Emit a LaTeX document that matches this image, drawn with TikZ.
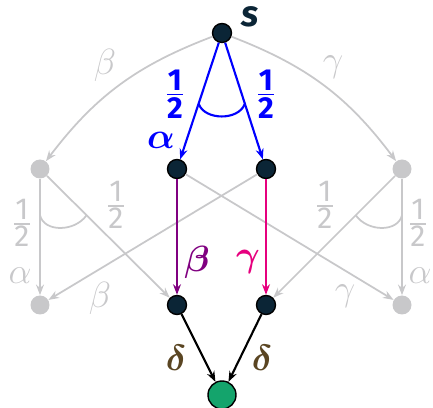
\documentclass[tikz,border=0pt]{standalone}
\usepackage{amsmath}
\usepackage{fontspec}
\setmainfont{Fira Sans}
\usepackage{xcolor}
\usepackage{tikz}
\usetikzlibrary{arrows.meta,positioning,calc}

\definecolor{nodedark}{HTML}{0B2536}
\definecolor{goalgreen}{HTML}{14A46C}
\definecolor{fadegray}{HTML}{C8C8CA}
\definecolor{deltabrown}{HTML}{5A4522}
\definecolor{betapurple}{HTML}{800080}
\definecolor{gammapink}{HTML}{E6007E}

\newcommand{\bhalf}{$\genfrac{}{}{1.1pt}{1}{\mbox{\bfseries 1}}{\mbox{\bfseries 2}}$}
\newcommand{\lhalf}{$\genfrac{}{}{0.8pt}{1}{\mbox{1}}{\mbox{2}}$}

\begin{document}
\begin{tikzpicture}[x=0.02cm,y=-0.02cm,
  dot/.style={circle,draw=black,line width=0.8pt,fill=nodedark,minimum size=0.38cm,inner sep=0pt},
  ghost/.style={circle,fill=fadegray,minimum size=0.38cm,inner sep=0pt},
  goal/.style={circle,draw=black,line width=0.8pt,fill=goalgreen,minimum size=0.56cm,inner sep=0pt},
  arr/.style={-{Stealth[length=6pt,width=4.5pt]},line width=1.2pt},
  faded/.style={arr,fadegray,line width=1pt},
  lbl/.style={font=\huge,inner sep=0pt},
  blbl/.style={font=\huge\bfseries\itshape,inner sep=0pt},
  half/.style={font=\LARGE,inner sep=0pt}
]
\useasboundingbox (0,0) rectangle (433,408);

% states
\node[dot] (s) at (222,33) {};
\node[ghost] (u1) at (40,169) {};
\node[dot] (u2) at (177,169) {};
\node[dot] (u3) at (266,169) {};
\node[ghost] (u4) at (402,169) {};
\node[ghost] (v1) at (40,305) {};
\node[dot] (v2) at (177,305) {};
\node[dot] (v3) at (266,305) {};
\node[ghost] (v4) at (402,305) {};
\node[goal] (t) at (222,395) {};

% faded branches
\draw[faded] (s) to[bend right=16] (u1);
\draw[faded] (s) to[bend left=16] (u4);
\draw[faded] (u1) -- (v1);
\draw[faded] (u1) -- (v2);
\draw[faded] (u4) -- (v4);
\draw[faded] (u4) -- (v3);
\draw[faded] (u2) -- (v4);
\draw[faded] (u3) -- (v1);
\draw[fadegray,line width=1pt] ($(u1)!0.34!(v1)$) .. controls +(4,17) and +(-12,17) .. ($(u1)!0.34!(v2)$);
\draw[fadegray,line width=1pt] ($(u4)!0.34!(v3)$) .. controls +(12,17) and +(-4,17) .. ($(u4)!0.34!(v4)$);

% chosen branches
\draw[arr,blue] (s) -- (u2);
\draw[arr,blue] (s) -- (u3);
\draw[blue,line width=1.2pt] ($(s)!0.52!(u2)$) .. controls +(6,17) and +(-6,17) .. ($(s)!0.52!(u3)$);
\draw[arr,betapurple] (u2) -- (v2);
\draw[arr,gammapink] (u3) -- (v3);
\draw[arr,black] (v2) -- (t);
\draw[arr,black] (v3) -- (t);

% labels
\node[blbl,text=nodedark] (ls) at (250,17) {s};
\node[half,text=blue] (h1) at (175,94) {\bhalf};
\node[half,text=blue] (h2) at (266,94) {\bhalf};
\node[lbl,text=blue] (la) at (161,140) {$\boldsymbol{\alpha}$};
\node[lbl,text=fadegray] (lb1) at (105,65) {$\beta$};
\node[lbl,text=fadegray] (lg1) at (333,67) {$\gamma$};
\node[half,text=fadegray] (h3) at (22,223) {\lhalf};
\node[half,text=fadegray] (h4) at (116,205) {\lhalf};
\node[half,text=fadegray] (h5) at (325,205) {\lhalf};
\node[half,text=fadegray] (h6) at (418,223) {\lhalf};
\node[lbl,text=fadegray] (la2) at (20,276) {$\alpha$};
\node[lbl,text=fadegray] (la3) at (420,276) {$\alpha$};
\node[lbl,text=fadegray] (lb2) at (100,298) {$\beta$};
\node[lbl,text=fadegray] (lg2) at (345,296) {$\gamma$};
\node[lbl,text=betapurple] (lb3) at (197,262) {$\boldsymbol{\beta}$};
\node[lbl,text=gammapink] (lg3) at (248,262) {$\boldsymbol{\gamma}$};
\node[lbl,text=deltabrown] (ld1) at (176,358) {$\boldsymbol{\delta}$};
\node[lbl,text=deltabrown] (ld2) at (262,358) {$\boldsymbol{\delta}$};
\end{tikzpicture}
\end{document}
